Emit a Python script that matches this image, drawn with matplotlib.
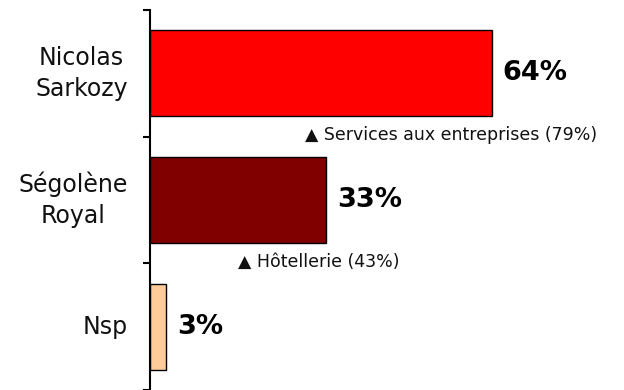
import numpy as np
import matplotlib
matplotlib.use("Agg")
import matplotlib.pyplot as plt

# data
candidates = ["Nicolas\nSarkozy", "Ségolène\nRoyal", "Nsp"]
shares = [64, 33, 3]
bar_colors = ["#FF0000", "#800000", "#FFCC99"]
notes = ["▲ Services aux entreprises (79%)", "▲ Hôtellerie (43%)"]
note_x = [29.0, 16.5]

plt.rcParams['font.family'] = ['DejaVu Sans']

fig = plt.figure(figsize=(6.24, 3.9), dpi=100)
ax = fig.add_axes([150 / 624, 0.0, 474 / 624, 380 / 390])

y = np.arange(len(candidates))
ax.barh(y, shares, height=0.68, color=bar_colors, edgecolor='black', linewidth=1.0, zorder=2)

ax.set_xlim(0, 88.8)
ax.set_ylim(2.5, -0.5)

# value labels
for yi, v in zip(y, shares):
    ax.annotate(f"{v}%", xy=(v, yi), xytext=(8, 0), textcoords='offset points',
                ha='left', va='center', fontsize=19.5, fontweight='bold', color='black')

# category labels
for yi, name in zip(y, candidates):
    ax.annotate(name, xy=(0, yi), xytext=(-16, 0), textcoords='offset points',
                ha='right', va='center', multialignment='center', fontsize=17,
                linespacing=1.35, color='#111111')

# notes between bars
for yi, (txt, nx) in enumerate(zip(notes, note_x)):
    ax.text(nx, yi + 0.49, txt, ha='left', va='center', fontsize=12.5, color='#111111')

# axis styling
for side in ['top', 'right', 'bottom']:
    ax.spines[side].set_visible(False)
ax.spines['left'].set_linewidth(1.5)
ax.set_xticks([])
ax.set_yticks([])
ax.set_yticks([-0.5, 0.5, 1.5, 2.5], minor=True)
ax.tick_params(axis='y', which='minor', direction='out', length=5, width=1.5, labelleft=False)

fig.savefig("out.png", dpi=100)
